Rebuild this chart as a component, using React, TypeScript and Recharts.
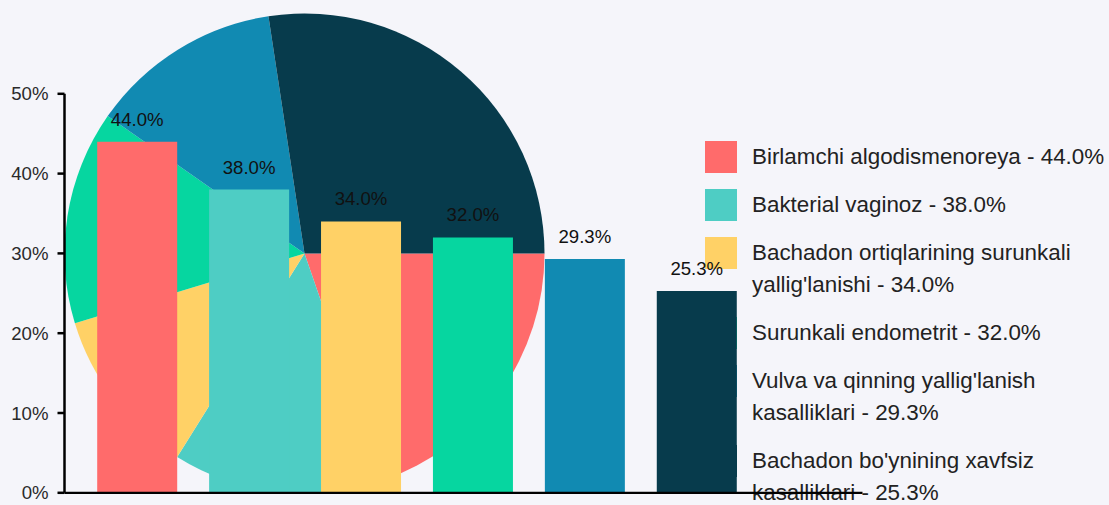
import React from "react";
import { BarChart, Bar, XAxis, YAxis, Cell, LabelList, PieChart, Pie } from "recharts";

const categories = [
  "Birlamchi algodismenoreya",
  "Bakterial vaginoz",
  "Bachadon ortiqlarining surunkali yallig'lanishi",
  "Surunkali endometrit",
  "Vulva va qinning yallig'lanish kasalliklari",
  "Bachadon bo'ynining xavfsiz kasalliklari",
];
const values = [44.0, 38.0, 34.0, 32.0, 29.3, 25.3];
// background pie slice shares (percent of the circle)
const pieShares = [19.7, 14.2, 11.4, 14.4, 12.9, 27.4];
const colors = ["#ff6b6b", "#4ecdc4", "#ffd166", "#06d6a0", "#118ab2", "#073b4c"];
const yTicks = [0, 10, 20, 30, 40, 50];

const barData = categories.map((name, i) => ({ name, value: values[i] }));
const pieData = categories.map((name, i) => ({ name, share: pieShares[i] }));

const W = 1109;
const H = 505;
const FONT = "'Liberation Sans', Arial, Helvetica, sans-serif";

export default function App() {
  return (
    <div
      style={{
        position: "fixed",
        left: 0,
        top: 0,
        width: W,
        height: H,
        background: "#f5f5fa",
        fontFamily: FONT,
        overflow: "hidden",
      }}
    >
      <div style={{ position: "absolute", left: 0, top: 0, zIndex: 0 }}>
        <PieChart width={W} height={H} margin={{ top: 0, right: 0, bottom: 0, left: 0 }}>
          <Pie
            data={pieData}
            dataKey="share"
            nameKey="name"
            cx={304.5}
            cy={253.5}
            outerRadius={240}
            startAngle={0}
            endAngle={-360}
            stroke="none"
            isAnimationActive={false}
          >
            {pieData.map((d, i) => (
              <Cell key={d.name} fill={colors[i]} stroke="none" />
            ))}
          </Pie>
        </PieChart>
      </div>

      <div
        style={{
          position: "absolute",
          left: 705,
          top: 141,
          zIndex: 1,
          color: "#222",
          fontSize: 22.4,
          lineHeight: "32px",
        }}
      >
        {categories.map((name, i) => (
          <div key={name} style={{ display: "flex", alignItems: "flex-start", marginBottom: 16 }}>
            <div style={{ width: 31.5, height: 32, background: colors[i], marginRight: 15.5, flex: "none" }} />
            <div style={{ width: 357 }}>{`${name} - ${values[i].toFixed(1)}%`}</div>
          </div>
        ))}
      </div>

      <div style={{ position: "absolute", left: 0, top: 0, zIndex: 2 }}>
        <BarChart
          width={W}
          height={H}
          data={barData}
          margin={{ top: 93.8, right: W - 862.5, bottom: 11.2, left: 0 }}
        >
          <XAxis
            dataKey="name"
            height={1}
            tick={false}
            tickLine={false}
            axisLine={{ stroke: "#000", strokeWidth: 2.3 }}
            padding={{ left: 16.7, right: 109.8 }}
          />
          <YAxis
            width={64.5}
            domain={[0, 50]}
            ticks={yTicks}
            tickFormatter={(v: number) => `${v}%`}
            tickSize={7}
            tickMargin={9}
            axisLine={{ stroke: "#000", strokeWidth: 2.5 }}
            tickLine={{ stroke: "#000", strokeWidth: 2.5 }}
            tick={{ fontSize: 18.6, fill: "#2a2a2a" }}
          />
          <Bar dataKey="value" barSize={80} isAnimationActive={false}>
            {barData.map((d, i) => (
              <Cell key={d.name} fill={colors[i]} />
            ))}
            <LabelList
              dataKey="value"
              position="top"
              offset={16}
              formatter={(v: any) => `${Number(v).toFixed(1)}%`}
              style={{ fontSize: 18.6, fill: "#111" }}
            />
          </Bar>
        </BarChart>
      </div>
    </div>
  );
}
